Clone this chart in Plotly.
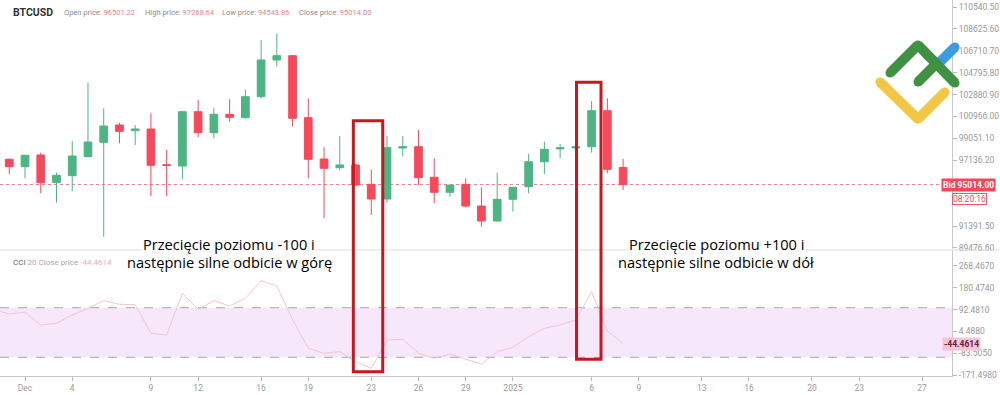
import plotly.graph_objects as go

# ---------------- data ----------------
dates = ["2024-11-30"] + [f"2024-12-{d:02d}" for d in range(1, 32)] + [f"2025-01-{d:02d}" for d in range(1, 9)]

open_ = [97224, 96577, 97600, 95177, 95789, 97451, 98710, 100223, 99724, 99873,
         96750, 96638, 101386, 99549, 101158, 100861, 102697, 105906, 106282, 100861,
         97250, 96489, 96725, 95037, 93752, 98212, 98325, 95650, 94338, 95037,
         93140, 91828, 93726, 94827, 97013, 98130, 98212, 98325, 101473, 96501.22]
high = [97311, 97620, 97800, 96051, 98823, 103921, 101683, 100423, 100223, 101246,
        98037, 101420, 102409, 101735, 102470, 103344, 107655, 108241, 106350, 102557,
        98273, 99261, 96850, 96349, 99261, 99261, 99785, 97311, 95000, 95562,
        94775, 96051, 94800, 97687, 98762, 98561, 98561, 102321, 102557, 97268.64]
low = [95938, 95562, 94250, 93428, 94425, 97400, 90455, 98622, 98474, 94015,
       94015, 95475, 99147, 99060, 100511, 100800, 102557, 105320, 100074, 95562,
       92064, 96288, 94900, 92353, 93428, 97451, 94976, 93376, 93953, 93030,
       91330, 91780, 92642, 94250, 95938, 97311, 97224, 97800, 96000, 94543.86]
close = [96577, 97573, 95177, 95824, 97512, 98736, 100135, 99672, 99873, 96699,
         96680, 101386, 99549, 101158, 100896, 102697, 105906, 106282, 100808, 97224,
         96437, 96725, 94976, 93752, 98238, 98325, 95615, 94338, 94976, 93140,
         91828, 93726, 94775, 97013, 98098, 98238, 98325, 101473, 96349, 95014.00]

cci_dates = ["2024-11-29"] + dates
cci = [93, 74.6, 81.5, 30.2, 37.1, 70.6, 97.6, 128.2, 113.7, 112.1,
       -3.2, -10, 158, 93.5, 128.2, 106.9, 137.9, 208.9, 187.5, 50.4,
       -63.7, -83.9, -77.4, -117.7, -144.3, -30.2, -27.4, -83.9, -104, -86.7,
       -108, -127, -77.4, -59.7, -16.9, 16.9, 30.2, 50.4, 164.5, 6, -44.4614]
cci_levels = [100, -100]

price_ticks = [89476.60, 91391.50, 93306.40, 95221.30, 97136.20, 99051.10,
               100966.00, 102880.90, 104795.80, 106710.70, 108625.60, 110540.50]
price_ticks_hidden = [93306.40, 95221.30]   # covered by the bid / clock labels
cci_ticks = [268.4670, 180.4740, 92.4810, 4.4880, -83.5050, -171.4980]

x_tick_dates = ["2024-12-01", "2024-12-04", "2024-12-09", "2024-12-12", "2024-12-16",
                "2024-12-19", "2024-12-23", "2024-12-26", "2024-12-29", "2025-01-01",
                "2025-01-06", "2025-01-09", "2025-01-13", "2025-01-16", "2025-01-20",
                "2025-01-23", "2025-01-27"]
x_tick_text = ["Dec", "4", "9", "12", "16", "19", "23", "26", "29", "2025",
               "6", "9", "13", "16", "20", "23", "27"]

highlight_windows = [("2024-12-21 20:40", "2024-12-23 17:30"),
                     ("2025-01-05 01:00", "2025-01-06 14:20")]

symbol = "BTCUSD"
clock_text = "08:20:16"
note_left = ["Przecięcie poziomu -100 i", "następnie silne odbicie w górę"]
note_right = ["Przecięcie poziomu +100 i", "następnie silne odbicie w dół"]

# ---------------- layout helpers ----------------
W, H = 1000, 395
ML, MR, MT, MB = 0, 48, 0, 19
PW = W - ML - MR
PH = H - MT - MB


def px(x):
    return (x - ML) / PW


def py(y):
    return 1 - (y - MT) / PH


X_RANGE = ["2024-11-29 09:50", "2025-01-28 21:35"]
PRICE_RANGE = [89380, 111152.6]
CCI_RANGE = [-175.4, 332.6]
SEP = 250  # pixel row separating the panels

GREEN = "#4fb483"
RED = "#f44a5b"
AXIS_FONT = dict(family="Roboto", size=8.5, color="#9a9a9a")

fig = go.Figure()

fig.add_trace(go.Candlestick(
    x=dates, open=open_, high=high, low=low, close=close,
    increasing=dict(line=dict(color=GREEN, width=1), fillcolor=GREEN),
    decreasing=dict(line=dict(color=RED, width=1), fillcolor=RED),
    whiskerwidth=0, xaxis="x", yaxis="y", showlegend=False, hoverinfo="skip"))

fig.add_trace(go.Scatter(
    x=cci_dates, y=cci, mode="lines", line=dict(color="#f2c4d3", width=1),
    xaxis="x2", yaxis="y2", showlegend=False, hoverinfo="skip"))

shapes = []
# CCI band
shapes.append(dict(type="rect", xref="x2 domain", yref="y2", x0=0, x1=1,
                   y0=min(cci_levels), y1=max(cci_levels),
                   fillcolor="#f6e7fb", line=dict(width=0), layer="below"))
for lv in cci_levels:
    shapes.append(dict(type="line", xref="x2 domain", yref="y2", x0=0, x1=1, y0=lv, y1=lv,
                       line=dict(color="#a8a8b0", width=1, dash="dash"), layer="below"))
# bid line
shapes.append(dict(type="line", xref="x domain", yref="y", x0=0, x1=1,
                   y0=close[-1], y1=close[-1],
                   line=dict(color="#f07a86", width=1, dash="dot"), layer="below"))
# panel separator
shapes.append(dict(type="line", xref="paper", yref="paper", x0=0, x1=px(W),
                   y0=py(SEP), y1=py(SEP), line=dict(color="#dcdcdc", width=1)))
# highlight boxes
box_y = [(120.8, 371.8), (82.2, 359.2)]
for (a, b), (yt, yb) in zip(highlight_windows, box_y):
    shapes.append(dict(type="rect", xref="x", yref="paper", x0=a, x1=b,
                       y0=py(yb), y1=py(yt), line=dict(color="#c8171e", width=3),
                       fillcolor="rgba(0,0,0,0)", layer="above"))


# logo (decorative)
def stroke(points, color, w=10):
    out = []
    for (x0, y0), (x1, y1) in zip(points[:-1], points[1:]):
        out.append(dict(type="line", xref="paper", yref="paper",
                        x0=px(x0), y0=py(y0), x1=px(x1), y1=py(y1),
                        line=dict(color=color, width=w), layer="above"))
    r = w / 2
    for (x, y) in points:
        out.append(dict(type="circle", xref="paper", yref="paper",
                        x0=px(x - r + 0.5), x1=px(x + r - 0.5),
                        y0=py(y + r - 0.5), y1=py(y - r + 0.5),
                        fillcolor=color, line=dict(width=0), layer="above"))
    return out


shapes += stroke([(939, 63), (955, 47)], "#3d9be0")
shapes += stroke([(880, 82), (918, 119), (945, 92)], "#f2c745")
shapes += stroke([(890, 73), (918, 45), (955, 83)], "#3f9143")
shapes += stroke([(918, 82), (936, 64)], "#3f9143")

annotations = []
annotations.append(dict(xref="paper", yref="paper", x=px(11), y=py(12.5), xanchor="left",
                        yanchor="middle", showarrow=False,
                        text=f"<b>{symbol}</b>",
                        font=dict(family="Roboto", size=10.5, color="#333")))
hdr_labels = ["Open price:", "High price:", "Low price:", "Close price:"]
hdr_vals = [open_[-1], high[-1], low[-1], close[-1]]
hdr_x = [62, 143, 220, 297]
for lab, val, x in zip(hdr_labels, hdr_vals, hdr_x):
    annotations.append(dict(xref="paper", yref="paper", x=px(x), y=py(12.5), xanchor="left",
                            yanchor="middle", showarrow=False,
                            text=f"{lab} <span style='color:#ea8290'>{val:.2f}</span>",
                            font=dict(family="Roboto", size=7.5, color="#8c8c8c")))
annotations.append(dict(xref="paper", yref="paper", x=px(11), y=py(262), xanchor="left",
                        yanchor="middle", showarrow=False,
                        text=("<span style='color:#666'>CCI</span> 20 Close price "
                              f"<span style='color:#f3aabb'>{cci[-1]:.4f}</span>"),
                        font=dict(family="Roboto", size=8, color="#a8a8a8")))

# price labels on the right
annotations.append(dict(xref="paper", yref="y", x=px(941), y=close[-1], xanchor="left",
                        yanchor="middle", showarrow=False,
                        text=f"<b>Bid {close[-1]:.2f}</b>", bgcolor="#f0475a",
                        font=dict(family="Roboto", size=8.5, color="white"), borderpad=1))
annotations.append(dict(xref="paper", yref="paper", x=px(952), y=py(199), xanchor="left",
                        yanchor="middle", showarrow=False, text=clock_text,
                        bgcolor="white", bordercolor="#ea5a6a", borderwidth=1, borderpad=0,
                        font=dict(family="Roboto", size=8.5, color="#e0505f")))
annotations.append(dict(xref="paper", yref="y2", x=px(942), y=cci[-1], xanchor="left",
                        yanchor="middle", showarrow=False,
                        text=f"<b>{cci[-1]:.4f}</b>", bgcolor="#f5c4d6",
                        font=dict(family="Roboto", size=8.5, color="#6e2038"), borderpad=1))

# explanatory notes
for lines, cx in ((note_left, 229), (note_right, 716)):
    annotations.append(dict(xref="paper", yref="paper", x=px(cx), y=py(244), xanchor="center",
                            yanchor="middle", showarrow=False, text=lines[0], bgcolor="white",
                            font=dict(family="Open Sans", size=14.6, color="#000")))
    annotations.append(dict(xref="paper", yref="paper", x=px(cx), y=py(262), xanchor="center",
                            yanchor="middle", showarrow=False, text=lines[1],
                            font=dict(family="Open Sans", size=14.6, color="#000")))

fig.update_layout(
    width=W, height=H, autosize=False,
    margin=dict(l=ML, r=MR, t=MT, b=MB),
    paper_bgcolor="white", plot_bgcolor="white",
    showlegend=False,
    shapes=shapes, annotations=annotations,
    xaxis=dict(domain=[0, 1], anchor="y", type="date", range=X_RANGE,
               showticklabels=False, showgrid=False, zeroline=False,
               rangeslider=dict(visible=False), matches="x2", ticks=""),
    yaxis=dict(domain=[py(SEP - 1), 1], anchor="x", side="right", range=PRICE_RANGE,
               tickmode="array", tickvals=price_ticks,
               ticktext=["" if v in price_ticks_hidden else f"{v:.2f}" for v in price_ticks],
               ticks="outside", ticklen=4, tickcolor="#bbb",
               showline=True, linecolor="#c8c8c8", linewidth=1,
               showgrid=False, zeroline=False, tickfont=AXIS_FONT, automargin=False),
    xaxis2=dict(domain=[0, 1], anchor="y2", type="date", range=X_RANGE,
                tickmode="array", tickvals=x_tick_dates, ticktext=x_tick_text,
                ticks="outside", ticklen=4, tickcolor="#bbb",
                showline=True, linecolor="#c8c8c8", linewidth=1,
                showgrid=False, zeroline=False, tickfont=AXIS_FONT, automargin=False),
    yaxis2=dict(domain=[0, py(SEP)], anchor="x2", side="right", range=CCI_RANGE,
                tickmode="array", tickvals=cci_ticks,
                ticktext=[f"{v:.4f}" for v in cci_ticks],
                ticks="outside", ticklen=4, tickcolor="#bbb",
                showline=True, linecolor="#c8c8c8", linewidth=1,
                showgrid=False, zeroline=False, tickfont=AXIS_FONT, automargin=False),
)

fig.write_html("out.html", config={"displayModeBar": False},
               post_script="document.body.style.margin='0';")
